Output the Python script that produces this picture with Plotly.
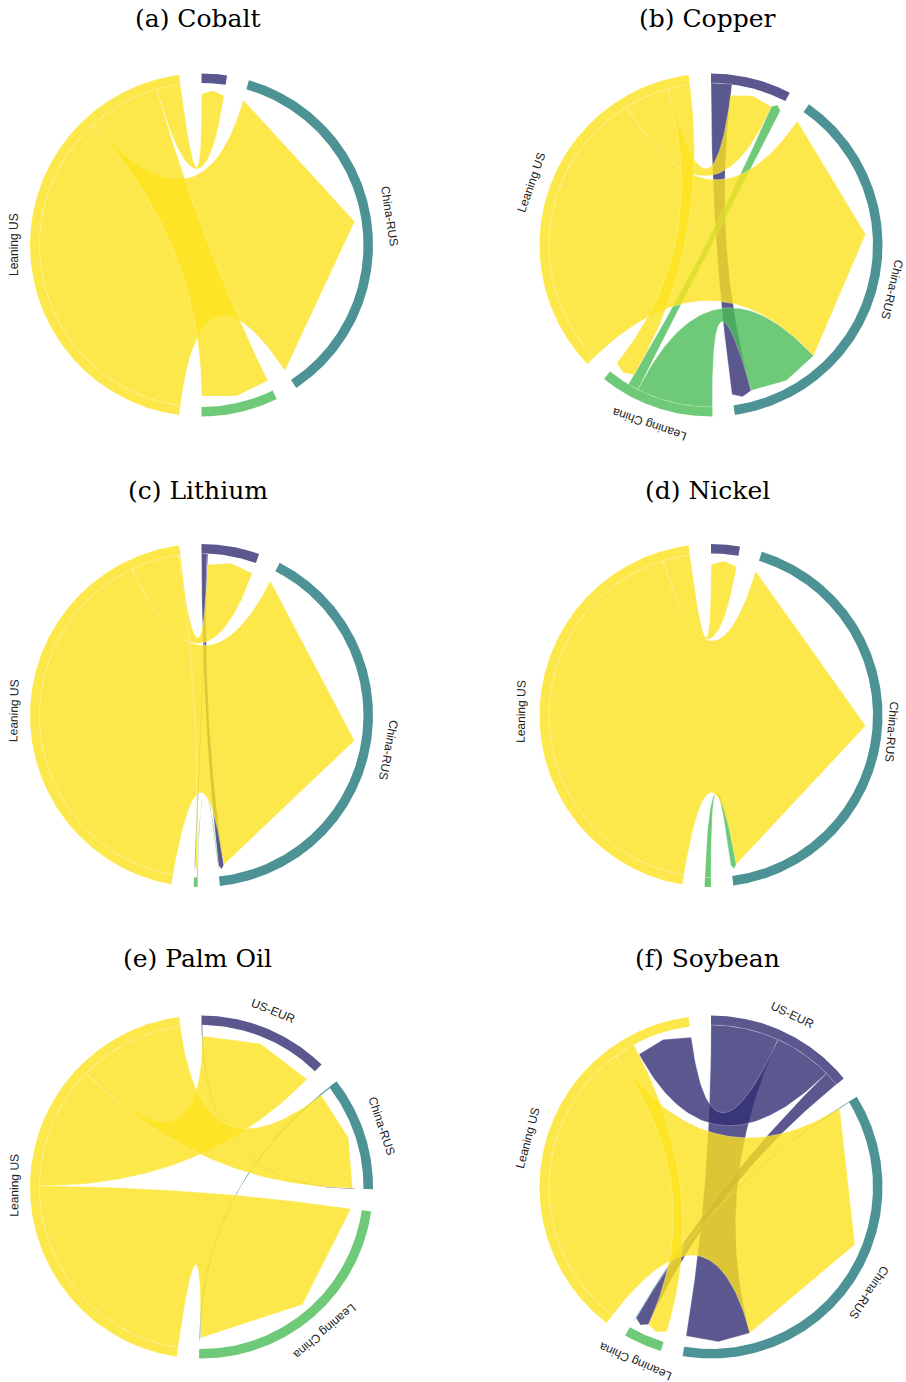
import numpy as np
import plotly.graph_objects as go

# ---------------- data ----------------
GROUPS = ["US-EUR", "China-RUS", "Leaning China", "Leaning US"]
TITLES = ["(a) Cobalt", "(b) Copper", "(c) Lithium", "(d) Nickel", "(e) Palm Oil", "(f) Soybean"]

# links: (exporting bloc, partner bloc, share of total trade in %)
cobalt = [("Leaning US", "China-RUS", 79.1),
          ("Leaning US", "Leaning China", 15.8),
          ("Leaning US", "US-EUR", 5.2)]
copper = [("US-EUR", "China-RUS", 4.5),
          ("Leaning China", "China-RUS", 16.5),
          ("Leaning China", "US-EUR", 2.3),
          ("Leaning US", "China-RUS", 61.8),
          ("Leaning US", "US-EUR", 9.7),
          ("Leaning US", "Leaning China", 4.8)]
lithium = [("US-EUR", "China-RUS", 1.2),
           ("US-EUR", "Leaning China", 0.2),
           ("Leaning China", "China-RUS", 0.2),
           ("Leaning US", "China-RUS", 87.6),
           ("Leaning US", "US-EUR", 10.5),
           ("Leaning US", "Leaning China", 0.4)]
nickel = [("Leaning China", "China-RUS", 1.3),
          ("Leaning US", "China-RUS", 92.8),
          ("Leaning US", "US-EUR", 5.9)]
palm_oil = [("US-EUR", "China-RUS", 0.2),
            ("China-RUS", "Leaning China", 0.3),
            ("Leaning US", "Leaning China", 49.7),
            ("Leaning US", "US-EUR", 26.7),
            ("Leaning US", "China-RUS", 23.0)]
soybean = [("US-EUR", "China-RUS", 14.8),
           ("US-EUR", "Leaning US", 12.7),
           ("US-EUR", "Leaning China", 3.2),
           ("China-RUS", "Leaning China", 0.2),
           ("Leaning US", "China-RUS", 64.5),
           ("Leaning US", "Leaning China", 4.5)]
PANELS = [cobalt, copper, lithium, nickel, palm_oil, soybean]

# ---------------- style / geometry ----------------
FILL = ["rgba(49,46,115,0.8)", "rgba(33,119,121,0.8)",
        "rgba(74,189,86,0.8)", "rgba(253,226,30,0.8)"]
EDGE = "rgba(255,255,255,0.45)"
W, H = 906, 1382
CENTERS = [(201.5, 245), (711, 245), (201.5, 715.5), (711, 715.5), (201.5, 1187), (711, 1187)]
TITLE_Y = [19, 19, 490, 490, 959, 959]
GAP = 7.5                 # degrees between sectors
R_OUT, R_IN = 171.5, 162.0
R_TGT, R_TIP = 151.0, 155.0
R_LAB = 190.0
HX, HY = 190, 180
EDGE_PAD = 14             # keep label centres this far from the page edge


def arc(r, a0, a1):
    n = max(3, int(abs(a1 - a0) * 2) + 2)
    th = np.radians(np.linspace(a0, a1, n))
    return r * np.cos(th), r * np.sin(th)


def qbez(p0, p2, n=70):
    t = np.linspace(0, 1, n)
    # quadratic Bezier with control point at the circle centre
    return (1 - t) ** 2 * p0[0] + t ** 2 * p2[0], (1 - t) ** 2 * p0[1] + t ** 2 * p2[1]


def pol(r, a):
    return (r * np.cos(np.radians(a)), r * np.sin(np.radians(a)))


fig = go.Figure()
annotations = []
layout = dict(width=W, height=H, margin=dict(l=0, r=0, t=0, b=0),
              paper_bgcolor="white", plot_bgcolor="white", showlegend=False)

for p, links in enumerate(PANELS):
    cx, cy = CENTERS[p]
    sfx = "" if p == 0 else str(p + 1)
    xa, ya = "x" + sfx, "y" + sfx
    layout["xaxis" + sfx] = dict(domain=[(cx - HX) / W, (cx + HX) / W], range=[-HX, HX],
                                 visible=False, fixedrange=True, anchor=ya)
    layout["yaxis" + sfx] = dict(domain=[1 - (cy + HY) / H, 1 - (cy - HY) / H], range=[-HY, HY],
                                 visible=False, fixedrange=True, anchor=xa)

    idx = [(GROUPS.index(s), GROUPS.index(t), v) for s, t, v in links]
    total = sum(v for _, _, v in idx)
    scale = (360 - len(GROUPS) * GAP) / (2 * total)
    sizes = [0.0] * len(GROUPS)
    for s, t, v in idx:
        sizes[s] += v
        sizes[t] += v
    starts, a = [], 90.0
    for k in range(len(GROUPS)):
        starts.append(a)
        a -= sizes[k] * scale + GAP

    # positions of link ends inside every sector: outgoing first, then incoming
    pos = {}
    for k in range(len(GROUPS)):
        cur = starts[k]
        outs = sorted([(v, i) for i, (s, t, v) in enumerate(idx) if s == k], reverse=True)
        ins = sorted([(v, i) for i, (s, t, v) in enumerate(idx) if t == k], reverse=True)
        for v, i in outs:
            pos[(i, "s")] = (cur, cur - v * scale)
            cur -= v * scale
        for v, i in ins:
            pos[(i, "t")] = (cur, cur - v * scale)
            cur -= v * scale

    # sector arcs + labels
    for k in range(len(GROUPS)):
        if sizes[k] <= 0:
            continue
        a0, a1 = starts[k], starts[k] - sizes[k] * scale
        xo, yo = arc(R_OUT, a0, a1)
        xi, yi = arc(R_IN, a1, a0)
        fig.add_trace(go.Scatter(x=np.r_[xo, xi, xo[:1]], y=np.r_[yo, yi, yo[:1]],
                                 mode="lines", fill="toself", fillcolor=FILL[k],
                                 line=dict(width=0), hoverinfo="skip", xaxis=xa, yaxis=ya))
        mid = (a0 + a1) / 2
        ta = (90 - mid + 180) % 360 - 180
        lx, ly = pol(R_LAB, mid)
        lx = min(lx, W - EDGE_PAD - cx)
        lx = max(lx, EDGE_PAD - cx)
        annotations.append(dict(x=lx, y=ly, xref=xa, yref=ya, text=GROUPS[k], showarrow=False,
                                textangle=ta, xanchor="center", yanchor="middle",
                                font=dict(family="Liberation Sans, Arial, sans-serif",
                                          size=12, color="#222222")))

    # ribbons (drawn by exporter order)
    order = sorted(range(len(idx)), key=lambda i: (idx[i][0], idx[i][1]))
    for i in order:
        s, t, v = idx[i]
        a0, a1 = pos[(i, "s")]
        b0, b1 = pos[(i, "t")]
        xs, ys = arc(R_IN, a0, a1)
        bx1, by1 = qbez(pol(R_IN, a1), pol(R_TGT, b0))
        tip = pol(R_TIP, (b0 + b1) / 2)
        bx2, by2 = qbez(pol(R_TGT, b1), pol(R_IN, a0))
        X = np.r_[xs, bx1, tip[0], bx2]
        Y = np.r_[ys, by1, tip[1], by2]
        fig.add_trace(go.Scatter(x=X, y=Y, mode="lines", fill="toself", fillcolor=FILL[s],
                                 line=dict(width=0.6, color=EDGE), hoverinfo="skip",
                                 xaxis=xa, yaxis=ya))

    annotations.append(dict(x=(cx - 4) / W, y=1 - TITLE_Y[p] / H, xref="paper", yref="paper",
                            text=TITLES[p], showarrow=False, xanchor="center", yanchor="middle",
                            font=dict(family="DejaVu Serif, serif", size=25, color="black")))

layout["annotations"] = annotations
fig.update_layout(**layout)
fig.write_html("out.html", config={"displayModeBar": False},
               post_script="document.body.style.margin='0px';document.body.style.padding='0px';")
